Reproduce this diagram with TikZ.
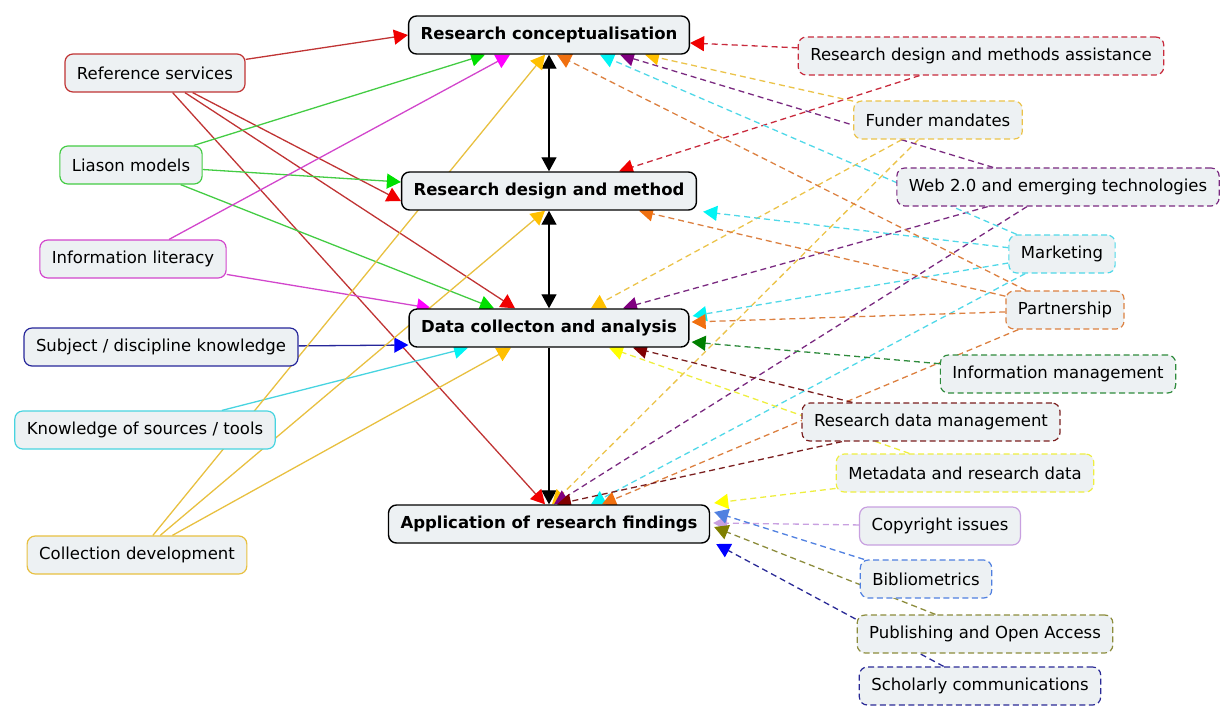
\documentclass[tikz,border=0pt]{standalone}
\usepackage{fontspec}
\setmainfont{DejaVu Sans}
\usetikzlibrary{arrows.meta,calc,backgrounds}

\definecolor{boxfill}{HTML}{EDF1F3}
\definecolor{refred}{HTML}{C03434}
\definecolor{liagreen}{HTML}{44CC44}
\definecolor{litmag}{HTML}{D246CC}
\definecolor{subjblue}{HTML}{26269A}
\definecolor{knowcyan}{HTML}{48D4E0}
\definecolor{colgold}{HTML}{E8C040}
\definecolor{rdmared}{HTML}{C82A3C}
\definecolor{fundgold}{HTML}{EBC34A}
\definecolor{webpurple}{HTML}{7A2A80}
\definecolor{mktcyan}{HTML}{50D8E8}
\definecolor{partorange}{HTML}{DC8040}
\definecolor{imgreen}{HTML}{2E8B3C}
\definecolor{rdmmaroon}{HTML}{7A1E1E}
\definecolor{metayellow}{HTML}{EEEE40}
\definecolor{copylav}{HTML}{C8A0E0}
\definecolor{biblue}{HTML}{5080E0}
\definecolor{pubolive}{HTML}{8C8C3C}
\definecolor{scholnavy}{HTML}{2A2A96}
\definecolor{tipred}{HTML}{F00000}
\definecolor{tipgreen}{HTML}{00E000}
\definecolor{tipmag}{HTML}{FF00FF}
\definecolor{tipblue}{HTML}{0000FF}
\definecolor{tipcyan}{HTML}{00F4F4}
\definecolor{tipgold}{HTML}{FFC000}
\definecolor{tiporange}{HTML}{F07010}
\definecolor{tippurple}{HTML}{800080}
\definecolor{tipdkgreen}{HTML}{008000}
\definecolor{tipmaroon}{HTML}{800000}
\definecolor{tipyellow}{HTML}{FFFF00}
\definecolor{tipolive}{HTML}{808000}

\tikzset{
	cbox/.style={draw=#1, fill=boxfill, rounded corners=8pt, line width=1.2pt,
		inner xsep=12pt, minimum height=38pt, font=\fontsize{16.5}{19}\selectfont},
	dbox/.style={cbox=#1, dash pattern=on 6pt off 3.5pt},
	mainbox/.style={cbox=black, line width=1.4pt, font=\fontsize{16.5}{19}\selectfont\bfseries},
	lnk/.style 2 args={draw=#1, line width=1.3pt, -{Triangle[length=14pt,width=15pt,color=#2]}},
	dlnk/.style 2 args={lnk={#1}{#2}, dash pattern=on 6pt off 4pt},
	blk/.style={draw=black, line width=1.3pt}
}

\begin{document}
\begin{tikzpicture}[x=1pt,y=-1pt]
				\useasboundingbox (0,0) rectangle (1223,705);
				
				% the four stages
				\node[mainbox] (concept) at (549,35) {Research conceptualisation};
				\node[mainbox] (design) at (549,191) {Research design and method};
				\node[mainbox] (data) at (549,328) {Data collecton and analysis};
				\node[mainbox] (apply) at (549,524) {Application of research findings};
				
				% left column
				\node[cbox=refred] (refserv) at (155,73) {Reference services};
				\node[cbox=liagreen] (liason) at (131,165) {Liason models};
				\node[cbox=litmag] (infolit) at (133,259) {Information literacy};
				\node[cbox=subjblue] (subject) at (161,347) {Subject / discipline knowledge};
				\node[cbox=knowcyan] (sources) at (145,430) {Knowledge of sources / tools};
				\node[cbox=colgold] (collect) at (137,555) {Collection development};
				
				% right column
				\node[dbox=rdmared] (rdma) at (981,56) {Research design and methods assistance};
				\node[dbox=fundgold] (funder) at (938,120) {Funder mandates};
				\node[dbox=webpurple] (web) at (1058,187) {Web 2.0 and emerging technologies};
				\node[dbox=mktcyan] (market) at (1062,254) {Marketing};
				\node[dbox=partorange] (partner) at (1065,310) {Partnership};
				\node[dbox=imgreen] (infomgmt) at (1058,374) {Information management};
				\node[dbox=rdmmaroon] (rdm) at (931,422) {Research data management};
				\node[dbox=metayellow] (meta) at (965,473) {Metadata and research data};
				\node[cbox=copylav] (copyright) at (940,526) {Copyright issues};
				\node[dbox=biblue] (biblio) at (926,579) {Bibliometrics};
				\node[dbox=pubolive] (publish) at (985,634) {Publishing and Open Access};
				\node[dbox=scholnavy] (scholar) at (980,686) {Scholarly communications};
				
				\begin{scope}[on background layer]
					\draw[blk,{Triangle[length=14pt,width=15pt]}-{Triangle[length=14pt,width=15pt]}] (concept) -- (design);
					\draw[blk,{Triangle[length=14pt,width=15pt]}-{Triangle[length=14pt,width=15pt]}] (design) -- (data);
					\draw[blk,-{Triangle[length=14pt,width=15pt]}] (data) -- (apply);
					
					% left side, solid
					\draw[lnk={refred}{tipred}] (refserv) -- (concept.west);
					\draw[lnk={refred}{tipred}] (refserv) -- ($(design.west)+(0,10)$);
					\draw[lnk={refred}{tipred}] (refserv) -- ($(data.north)+(-34,0)$);
					\draw[lnk={refred}{tipred}] (refserv) -- ($(apply.north)+(-4,0)$);
					
					\draw[lnk={liagreen}{tipgreen}] (liason) -- ($(concept.south)+(-64,0)$);
					\draw[lnk={liagreen}{tipgreen}] (liason) -- ($(design.west)+(0,-9)$);
					\draw[lnk={liagreen}{tipgreen}] (liason) -- ($(data.north)+(-55,0)$);
					
					\draw[lnk={litmag}{tipmag}] (infolit) -- ($(concept.south)+(-39,0)$);
					\draw[lnk={litmag}{tipmag}] (infolit) -- ($(data.north)+(-118,0)$);
					
					\draw[lnk={subjblue}{tipblue}] (subject) -- ($(data.west)+(0,17)$);
					\draw[lnk={knowcyan}{tipcyan}] (sources) -- ($(data.south)+(-81,0)$);
					
					\foreach \t in {concept,design}{
						\draw[lnk={colgold}{tipgold}] (collect) -- ($(\t.south)+(-4,0)$);}
					\draw[lnk={colgold}{tipgold}] (collect) -- ($(data.south)+(-38,0)$);
					
					% right side, dashed
					\draw[dlnk={rdmared}{tipred}] (rdma) -- ($(concept.east)+(0,8)$);
					\draw[dlnk={rdmared}{tipred}] (rdma) -- ($(design.north)+(70,0)$);
					
					\draw[dlnk={fundgold}{tipgold}] (funder) -- ($(concept.south)+(96,0)$);
					\draw[dlnk={fundgold}{tipgold}] (funder) -- ($(data.north)+(42,0)$);
					\draw[dlnk={fundgold}{tipgold}] (funder) -- ($(apply.north)+(3,0)$);
					
					\draw[dlnk={webpurple}{tippurple}] (web) -- ($(concept.south)+(71,0)$);
					\draw[dlnk={webpurple}{tippurple}] (web) -- ($(data.north)+(74,0)$);
					\draw[dlnk={webpurple}{tippurple}] (web) -- ($(apply.north)+(5,0)$);
					
					\draw[dlnk={mktcyan}{tipcyan}] (market) -- ($(concept.south)+(51,0)$);
					\draw[dlnk={mktcyan}{tipcyan}] (market) -- ($(design.south east)+(6,1)$);
					\draw[dlnk={mktcyan}{tipcyan}] (market) -- ($(data.east)+(3,-12)$);
					\draw[dlnk={mktcyan}{tipcyan}] (market) -- ($(apply.north)+(42,0)$);
					
					\draw[dlnk={partorange}{tiporange}] (partner) -- ($(concept.south)+(8,0)$);
					\draw[dlnk={partorange}{tiporange}] (partner) -- ($(design.south)+(90,0)$);
					\draw[dlnk={partorange}{tiporange}] (partner) -- ($(data.east)+(2,-6)$);
					\draw[dlnk={partorange}{tiporange}] (partner) -- ($(apply.north)+(53,0)$);
					
					\draw[dlnk={imgreen}{tipdkgreen}] (infomgmt) -- ($(data.east)+(2,14)$);
					
					\draw[dlnk={rdmmaroon}{tipmaroon}] (rdm) -- ($(data.south)+(84,0)$);
					\draw[dlnk={rdmmaroon}{tipmaroon}] (rdm) -- ($(apply.north)+(8,0)$);
					
					\draw[dlnk={metayellow}{tipyellow}] (meta) -- ($(data.south)+(60,0)$);
					\draw[dlnk={metayellow}{tipyellow}] (meta) -- ($(apply.east)+(4,-21)$);
					
					\draw[dlnk={copylav}{copylav}] (copyright) -- ($(apply.east)+(3,-1)$);
					\draw[dlnk={biblue}{biblue}] (biblio) -- ($(apply.east)+(4,-12)$);
					\draw[dlnk={pubolive}{tipolive}] (publish) -- ($(apply.east)+(4,3)$);
					\draw[dlnk={scholnavy}{tipblue}] (scholar) -- ($(apply.east)+(6,20)$);
				\end{scope}
			\end{tikzpicture}
\end{document}
